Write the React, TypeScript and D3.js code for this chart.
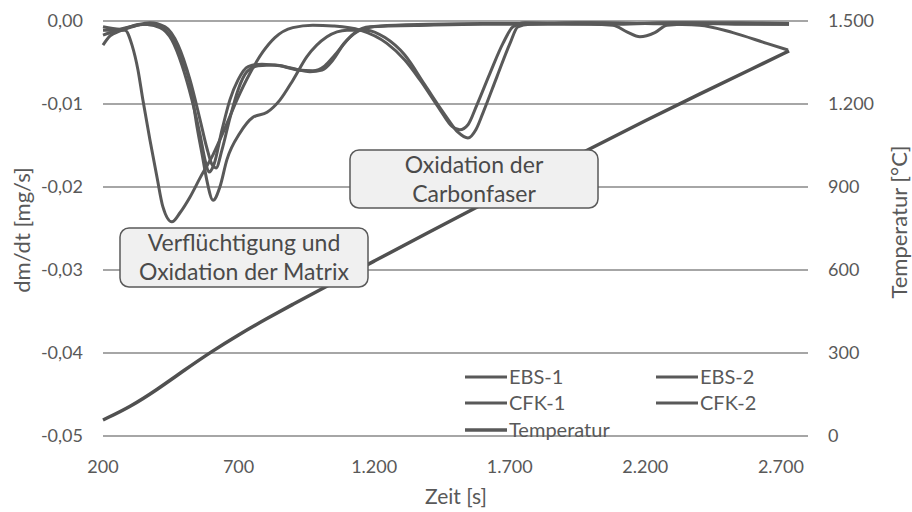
import React, { useEffect, useRef } from 'react'
import * as d3 from 'd3'

// time [s] / dm/dt [mg/s] pairs
const ebs1 = [
  [200, -0.0017], [244, -0.0012], [300, -0.0007], [355, -0.0004], [410, -0.0008],
  [454, -0.0023], [491, -0.0053], [528, -0.0095], [558, -0.0137], [576, -0.0167],
  [591, -0.0182], [609, -0.0173], [639, -0.0131], [668, -0.0095], [698, -0.0071],
  [735, -0.0055], [786, -0.0052], [853, -0.0054], [919, -0.0059], [974, -0.006],
  [1018, -0.0054], [1055, -0.0041], [1100, -0.0023], [1148, -0.0011], [1221, -0.0006],
  [1400, -0.0004], [1600, -0.0003], [1800, -0.0003], [2000, -0.0002], [2200, -0.0003],
  [2400, -0.0005], [2523, -0.0014], [2648, -0.0027], [2726, -0.0035]
]
const ebs2 = [
  [200, -0.0029], [226, -0.0018], [263, -0.0012], [318, -0.0006], [373, -0.0002],
  [429, -0.0007], [477, -0.0029], [521, -0.0071], [558, -0.0119], [583, -0.0153],
  [602, -0.0173], [617, -0.0177], [639, -0.0155], [668, -0.0117], [698, -0.0083],
  [731, -0.0061], [772, -0.0054], [834, -0.0053], [897, -0.0057], [963, -0.0061],
  [1008, -0.0059], [1048, -0.0047], [1085, -0.0029], [1129, -0.0014], [1184, -0.0007],
  [1400, -0.0005], [1600, -0.0004], [1800, -0.0004], [2000, -0.0004], [2080, -0.0005],
  [2132, -0.0013], [2180, -0.0019], [2235, -0.0014], [2280, -0.0005], [2400, -0.0003],
  [2600, -0.0004], [2730, -0.0004]
]
const cfk1 = [
  [200, -0.0011], [244, -0.0011], [281, -0.0011], [307, -0.0029], [329, -0.0059],
  [347, -0.0095], [373, -0.0143], [399, -0.0188], [421, -0.0224], [454, -0.0242],
  [484, -0.0231], [521, -0.0212], [558, -0.0189], [606, -0.0161], [650, -0.0129],
  [694, -0.0095], [742, -0.0063], [790, -0.0037], [834, -0.002], [900, -0.0008],
  [974, -0.0005], [1048, -0.0006], [1148, -0.0011], [1247, -0.0027], [1313, -0.0047],
  [1369, -0.0071], [1443, -0.0107], [1487, -0.0127], [1516, -0.0131], [1546, -0.0125],
  [1579, -0.0101], [1627, -0.0063], [1675, -0.0027], [1712, -0.0007], [1756, -0.0002],
  [1900, -0.0003], [2100, -0.0004], [2300, -0.0002], [2500, -0.0003], [2730, -0.0004]
]
const cfk2 = [
  [200, -0.0007], [263, -0.001], [336, -0.0004], [392, -0.0005], [447, -0.0017],
  [484, -0.0041], [521, -0.0075], [547, -0.0128], [569, -0.0167], [583, -0.0192],
  [606, -0.0216], [631, -0.02], [657, -0.0167], [705, -0.0135], [753, -0.0116],
  [805, -0.011], [853, -0.0095], [901, -0.0071], [952, -0.0043], [1026, -0.0019],
  [1100, -0.0011], [1173, -0.0011], [1240, -0.002], [1313, -0.0041], [1387, -0.0077],
  [1461, -0.0113], [1509, -0.0134], [1546, -0.0141], [1575, -0.0131], [1601, -0.0111],
  [1653, -0.0067], [1701, -0.0027], [1730, -0.0007], [1774, -0.0004], [1950, -0.0002],
  [2150, -0.0003], [2350, -0.0002], [2550, -0.0002], [2730, -0.0003]
]
// time [s] / temperature [°C]
const temperatur = [
  [200, 58], [300, 105], [400, 168], [500, 238], [600, 305], [700, 366],
  [800, 422], [900, 476], [1000, 528], [1200, 632], [1400, 736], [1600, 838],
  [1800, 940], [2000, 1040], [2200, 1140], [2400, 1236], [2600, 1330], [2730, 1392]
]

const xTicks = [200, 700, 1200, 1700, 2200, 2700]
const yTicks = [0, -0.01, -0.02, -0.03, -0.04, -0.05]
const tTicks = [0, 300, 600, 900, 1200, 1500]
const legendNames = ['EBS-1', 'EBS-2', 'CFK-1', 'CFK-2', 'Temperatur']

const width = 912
const height = 512
const left = 103
const right = 808
const top = 21
const bottom = 436
const font = 'Lato, sans-serif'
const lineColor = '#595959'
const textColor = '#595959'

const de = d3.formatLocale({ decimal: ',', thousands: '.', grouping: [3], currency: ['', ' €'], minus: '-' })

function App() {
  const svgRef = useRef(null)

  useEffect(() => {
    const svg = d3.select(svgRef.current)
    svg.selectAll('*').remove()

    const x = d3.scaleLinear().domain([200, 2800]).range([left, right])
    const y = d3.scaleLinear().domain([-0.05, 0]).range([bottom, top])
    const yT = d3.scaleLinear().domain([0, 1500]).range([bottom, top])

    // gridlines
    svg.append('g').selectAll('line')
      .data(yTicks)
      .enter().append('line')
      .attr('x1', left).attr('x2', right)
      .attr('y1', d => y(d)).attr('y2', d => y(d))
      .style('stroke', '#a6a6a6')
      .style('stroke-width', 2)

    // left axis labels
    svg.append('g').selectAll('text')
      .data(yTicks)
      .enter().append('text')
      .attr('x', 83).attr('y', d => y(d))
      .attr('dy', '0.35em')
      .attr('text-anchor', 'end')
      .text(d => de.format('.2f')(d))
      .style('font-family', font).style('font-size', '18px').style('fill', textColor)

    // right axis labels
    svg.append('g').selectAll('text')
      .data(tTicks)
      .enter().append('text')
      .attr('x', 828).attr('y', d => yT(d))
      .attr('dy', '0.35em')
      .text(d => de.format(',')(d))
      .style('font-family', font).style('font-size', '18px').style('fill', textColor)

    // bottom axis labels
    svg.append('g').selectAll('text')
      .data(xTicks)
      .enter().append('text')
      .attr('x', d => x(d)).attr('y', 467)
      .attr('dy', '0.35em')
      .attr('text-anchor', 'middle')
      .text(d => de.format(',')(d))
      .style('font-family', font).style('font-size', '18px').style('fill', textColor)

    // axis titles
    svg.append('text')
      .attr('x', 456).attr('y', 497).attr('dy', '0.35em')
      .attr('text-anchor', 'middle')
      .text('Zeit [s]')
      .style('font-family', font).style('font-size', '21px').style('fill', textColor)
    svg.append('text')
      .attr('transform', 'translate(22,230) rotate(-90)')
      .attr('dy', '0.35em')
      .attr('text-anchor', 'middle')
      .text('dm/dt [mg/s]')
      .style('font-family', font).style('font-size', '22px').style('fill', textColor)
    svg.append('text')
      .attr('transform', 'translate(899,222) rotate(-90)')
      .attr('dy', '0.35em')
      .attr('text-anchor', 'middle')
      .text('Temperatur [°C]')
      .style('font-family', font).style('font-size', '22px').style('fill', textColor)

    // curves
    const line = d3.line().x(d => x(d[0])).y(d => y(d[1])).curve(d3.curveMonotoneX)
    const tLine = d3.line().x(d => x(d[0])).y(d => yT(d[1])).curve(d3.curveBasis)

    svg.append('path').datum(temperatur)
      .attr('d', tLine)
      .style('fill', 'none').style('stroke', '#505050').style('stroke-width', 3.5)

    for (const s of [ebs1, ebs2, cfk1, cfk2]) {
      svg.append('path').datum(s)
        .attr('d', line)
        .style('fill', 'none').style('stroke', lineColor).style('stroke-width', 3)
        .style('stroke-linejoin', 'round')
    }

    // legend
    const legendPos = [[465, 377], [656, 377], [465, 403], [656, 403], [465, 430]]
    const lg = svg.append('g')
    legendNames.forEach((name, i) => {
      const [lx, ly] = legendPos[i]
      lg.append('line')
        .attr('x1', lx).attr('x2', lx + 42)
        .attr('y1', ly).attr('y2', ly)
        .style('stroke', lineColor).style('stroke-width', i === 4 ? 3.5 : 3)
      lg.append('text')
        .attr('x', lx + 44).attr('y', ly).attr('dy', '0.35em')
        .text(name)
        .style('font-family', font).style('font-size', '20px').style('fill', textColor)
    })

    // annotation boxes
    const boxes = [
      { x: 120, y: 228, w: 248, h: 59, lines: ['Verflüchtigung und', 'Oxidation der Matrix'] },
      { x: 350, y: 150, w: 248, h: 58, lines: ['Oxidation der', 'Carbonfaser'] }
    ]
    boxes.forEach(b => {
      svg.append('rect')
        .attr('x', b.x).attr('y', b.y).attr('width', b.w).attr('height', b.h)
        .attr('rx', 9)
        .style('fill', '#f0f0f0').style('stroke', '#5a5a5a').style('stroke-width', 1.5)
      b.lines.forEach((t, i) => {
        svg.append('text')
          .attr('x', b.x + b.w / 2).attr('y', b.y + 15 + i * 29).attr('dy', '0.35em')
          .attr('text-anchor', 'middle')
          .text(t)
          .style('font-family', font).style('font-size', '23px').style('fill', '#4a4a4a')
      })
    })
  }, [])

  return (
    <svg ref={svgRef} width={width} height={height}
      style={{ position: 'absolute', left: 0, top: 0, background: '#fff' }} />
  )
}

export default App
